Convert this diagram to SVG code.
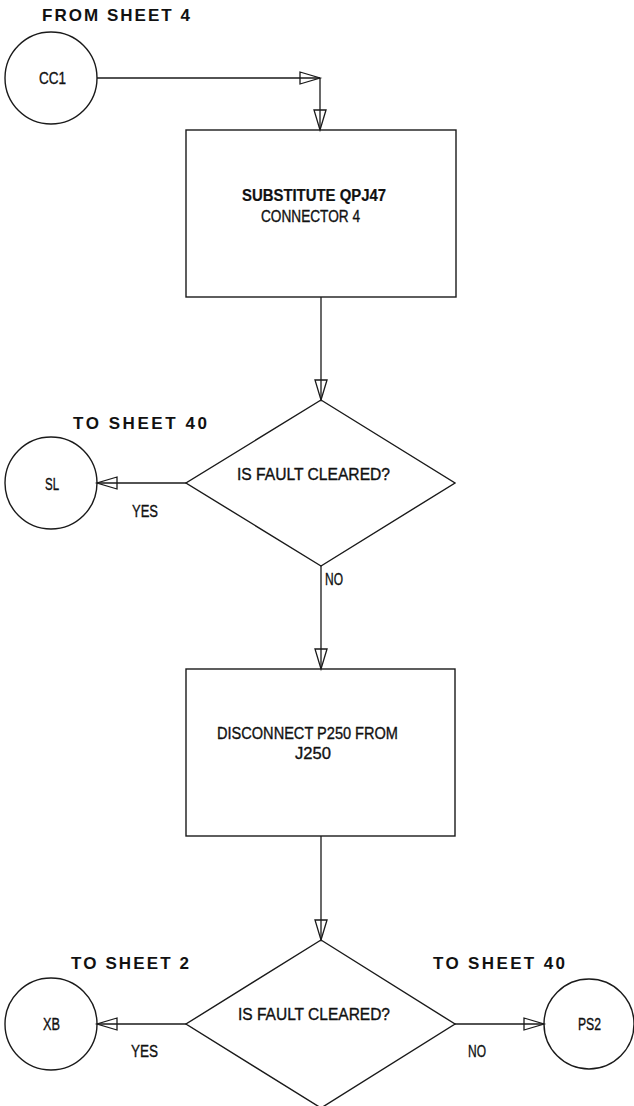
<svg xmlns="http://www.w3.org/2000/svg" width="634" height="1106" viewBox="0 0 634 1106">
  <style>
    .shape { fill: none; stroke: #1a1a1a; stroke-width: 1.4; }
    .conn { fill: none; stroke: #1a1a1a; stroke-width: 1.3; marker-end: url(#open-arrow); }
    .lbl { font-family: "Liberation Sans", Arial, sans-serif; font-size: 16px; fill: #111; stroke: #111; stroke-width: 0.35; }
    .bold { font-weight: bold; stroke-width: 0.2; }
    .head { font-family: "Liberation Sans", Arial, sans-serif; font-size: 17px; font-weight: bold; fill: #111; }
  </style>
  <defs>
    <marker id="open-arrow" markerUnits="userSpaceOnUse" markerWidth="24" markerHeight="16" refX="20" refY="6" orient="auto" overflow="visible">
      <path d="M0,0 L20,6 L0,12 Z" fill="none" stroke="#1a1a1a" stroke-width="1.3" stroke-linejoin="miter"/>
    </marker>
  </defs>
  <rect width="634" height="1106" fill="#ffffff"/>

  <!-- off-sheet connectors -->
  <g id="cc1">
    <text class="head" x="42" y="21" textLength="148" lengthAdjust="spacing">FROM SHEET 4</text>
    <circle class="shape" cx="51" cy="78" r="46"/>
    <text class="lbl" x="39" y="84" textLength="27" lengthAdjust="spacingAndGlyphs">CC1</text>
  </g>

  <g id="sl">
    <text class="head" x="73" y="429" textLength="134" lengthAdjust="spacing">TO SHEET 40</text>
    <circle class="shape" cx="51" cy="483" r="46"/>
    <text class="lbl" x="45" y="490" textLength="14" lengthAdjust="spacingAndGlyphs">SL</text>
  </g>

  <g id="xb">
    <text class="head" x="71" y="969" textLength="118" lengthAdjust="spacing">TO SHEET 2</text>
    <circle class="shape" cx="51" cy="1024" r="46"/>
    <text class="lbl" x="43" y="1030" textLength="17" lengthAdjust="spacingAndGlyphs">XB</text>
  </g>

  <g id="ps2">
    <text class="head" x="433" y="969" textLength="132" lengthAdjust="spacing">TO SHEET 40</text>
    <circle class="shape" cx="589" cy="1024" r="45"/>
    <text class="lbl" x="578" y="1030" textLength="23" lengthAdjust="spacingAndGlyphs">PS2</text>
  </g>

  <!-- process steps -->
  <g id="substitute">
    <rect class="shape" x="186" y="130" width="270" height="167"/>
    <text class="lbl bold" x="242" y="201" textLength="144" lengthAdjust="spacingAndGlyphs">SUBSTITUTE QPJ47</text>
    <text class="lbl" x="261" y="222" textLength="99" lengthAdjust="spacingAndGlyphs">CONNECTOR 4</text>
  </g>

  <g id="disconnect">
    <rect class="shape" x="186" y="669" width="269" height="167"/>
    <text class="lbl" x="217" y="739" textLength="181" lengthAdjust="spacingAndGlyphs">DISCONNECT P250 FROM</text>
    <text class="lbl" x="295" y="759" textLength="36" lengthAdjust="spacingAndGlyphs">J250</text>
  </g>

  <!-- decisions -->
  <g id="decision1">
    <polygon class="shape" points="321,400 455,483 321,566 186,483"/>
    <text class="lbl" x="237" y="480" textLength="153" lengthAdjust="spacingAndGlyphs">IS FAULT CLEARED?</text>
  </g>

  <g id="decision2">
    <polygon class="shape" points="321,940 455,1024 321,1108 186,1024"/>
    <text class="lbl" x="238" y="1020" textLength="152" lengthAdjust="spacingAndGlyphs">IS FAULT CLEARED?</text>
  </g>

  <!-- flow lines -->
  <g id="connectors">
    <path d="M97,78 L320,78" class="conn"/>
    <path d="M320,78 L320,130" class="conn"/>
    <path d="M321,297 L321,400" class="conn"/>
    <path d="M186,483 L97,483" class="conn"/>
    <path d="M321,566 L321,669" class="conn"/>
    <path d="M321,836 L321,940" class="conn"/>
    <path d="M186,1024 L97,1024" class="conn"/>
    <path d="M455,1024 L544,1024" class="conn"/>
    <text class="lbl" x="132" y="517" textLength="26" lengthAdjust="spacingAndGlyphs">YES</text>
    <text class="lbl" x="325" y="585" textLength="18" lengthAdjust="spacingAndGlyphs">NO</text>
    <text class="lbl" x="131" y="1057" textLength="27" lengthAdjust="spacingAndGlyphs">YES</text>
    <text class="lbl" x="468" y="1057" textLength="18" lengthAdjust="spacingAndGlyphs">NO</text>
  </g>
</svg>
